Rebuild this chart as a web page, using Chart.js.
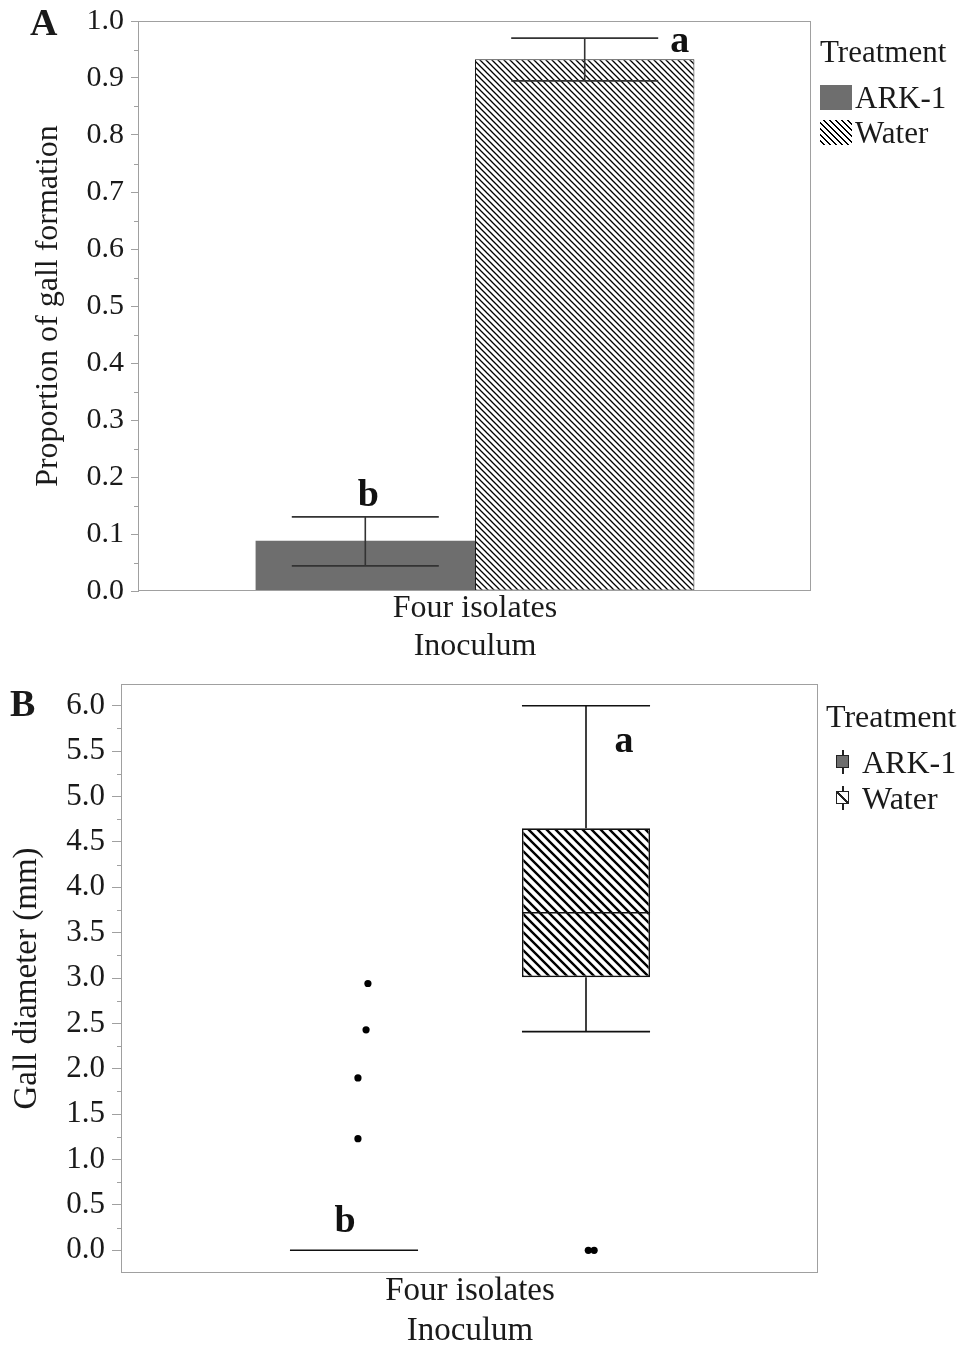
<!DOCTYPE html>
<html>
<head>
<meta charset="utf-8">
<script src="https://cdn.jsdelivr.net/npm/chart.js@4.4.1/dist/chart.umd.min.js"></script>
<style>
    html, body { margin: 0; padding: 0; background: #fff; overflow: hidden; }
    #pagina { position: relative; width: 963px; height: 1346px; font-family: "Liberation Serif", "Times New Roman", serif; color: #1a1a1a; }
    #cajaA { position: absolute; left: 0; top: 0; width: 963px; height: 670px; }
    #cajaB { position: absolute; left: 0; top: 670px; width: 963px; height: 676px; }
    .txt { position: absolute; white-space: nowrap; line-height: 1; }
    .panel { font-weight: bold; font-size: 38px; }
    .muestra { position: absolute; }
    .rayas { background: repeating-linear-gradient(45deg, #fff 0px, #fff 2.6px, #000 2.6px, #000 4.2px); }
    .icono { position: absolute; width: 14px; }
    .icono .linea { position: absolute; left: 6px; top: 0; width: 1.5px; height: 24px; background: #222; }
    .icono .cuadro { position: absolute; left: 0; top: 5px; width: 11px; height: 11px; border: 1.5px solid #222; }
</style>
</head>
<body>
<div id="pagina">
    <div id="cajaA"><canvas id="graficoA"></canvas></div>
    <div id="cajaB"><canvas id="graficoB"></canvas></div>

    <!-- Letras de panel -->
    <div class="txt panel" style="left:30px; top:3px;">A</div>
    <div class="txt panel" style="left:10px; top:684px;">B</div>

    <!-- Leyenda panel A -->
    <div class="txt" style="left:820px; top:36px; font-size:31px;">Treatment</div>
    <div class="muestra" style="left:820px; top:85px; width:32px; height:25px; background:#6e6e6e;"></div>
    <div class="txt" style="left:855px; top:82px; font-size:31px;">ARK-1</div>
    <div class="muestra rayas" style="left:820px; top:120px; width:32px; height:25px;"></div>
    <div class="txt" style="left:855px; top:117px; font-size:31px;">Water</div>

    <!-- Leyenda panel B -->
    <div class="txt" style="left:826px; top:700px; font-size:32px;">Treatment</div>
    <div class="icono" style="left:836px; top:750px; height:24px;">
        <div class="linea"></div>
        <div class="cuadro" style="background:#6e6e6e;"></div>
    </div>
    <div class="txt" style="left:862px; top:746px; font-size:32px;">ARK-1</div>
    <div class="icono" style="left:836px; top:786px; height:24px;">
        <div class="linea"></div>
        <div class="cuadro" style="background:#fff linear-gradient(45deg, transparent 44%, #222 44%, #222 58%, transparent 58%);"></div>
    </div>
    <div class="txt" style="left:862px; top:782px; font-size:32px;">Water</div>
</div>

<script>
// ---------- Datos panel A: proporción de formación de agallas ----------
const categoriaA = ['Four isolates'];
const tratamientosA = ['ARK-1', 'Water'];
const proporcionA = [0.088, 0.933];
const errorInfA = [0.044, 0.895];
const errorSupA = [0.130, 0.970];
const letrasA = ['b', 'a'];
const ticksA = [0, 0.1, 0.2, 0.3, 0.4, 0.5, 0.6, 0.7, 0.8, 0.9, 1.0];

// ---------- Datos panel B: diámetro de agallas (diagrama de caja) ----------
const tratamientosB = ['ARK-1', 'Water'];
const q1B = [0, 3.01];
const medianaB = [0, 3.72];
const q3B = [0, 4.65];
const bigoteInfB = [0, 2.41];
const bigoteSupB = [0, 6.0];
const atipicosArk = [2.94, 2.43, 1.90, 1.23];
const dispersionArk = [0.06, 0.052, 0.017, 0.017];   // desplazamiento horizontal de los puntos
const atipicosWater = [0, 0];
const dispersionWater = [0.01, 0.035];
const letrasB = ['b', 'a'];
const ticksB = [0, 0.5, 1.0, 1.5, 2.0, 2.5, 3.0, 3.5, 4.0, 4.5, 5.0, 5.5, 6.0];

const FUENTE = '"Liberation Serif", "Times New Roman", serif';
const TEXTO = '#1a1a1a';
const GRIS_EJE = '#a0a0a0';
const GRIS_BARRA = '#6e6e6e';

// Crea un patrón de rayas diagonales "\" para rellenar barras
function crearRayado(paso, grosor) {
    const c = document.createElement('canvas');
    c.width = paso; c.height = paso;
    const g = c.getContext('2d');
    g.fillStyle = '#fff';
    g.fillRect(0, 0, paso, paso);
    g.strokeStyle = '#000';
    g.lineWidth = grosor;
    g.beginPath();
    g.moveTo(-1, -1); g.lineTo(paso + 1, paso + 1);
    g.moveTo(-1, paso - 1); g.lineTo(1, paso + 1);
    g.moveTo(paso - 1, -1); g.lineTo(paso + 1, 1);
    g.stroke();
    return g.createPattern(c, 'repeat');
}

// Marco gris del área de trazado + marcas menores del eje Y
const marcoPlugin = {
    id: 'marco',
    afterDraw(chart, args, opts) {
        const { ctx, chartArea: a, scales } = chart;
        ctx.save();
        ctx.strokeStyle = GRIS_EJE;
        ctx.lineWidth = 1;
        ctx.strokeRect(Math.round(a.left) - 0.5, Math.round(a.top) + 0.5,
                       Math.round(a.right - a.left), Math.round(a.bottom - a.top) - 1);
        const t = opts.ticks;
        for (let i = 0; i < t.length - 1; i++) {
            const y = Math.round(scales.y.getPixelForValue((t[i] + t[i + 1]) / 2)) + 0.5;
            ctx.beginPath();
            ctx.moveTo(a.left - opts.menor, y);
            ctx.lineTo(a.left, y);
            ctx.stroke();
        }
        ctx.restore();
    }
};

// Barras de error y letras de significancia del panel A
const erroresPlugin = {
    id: 'errores',
    afterDatasetsDraw(chart) {
        const { ctx, scales: { y } } = chart;
        ctx.save();
        ctx.strokeStyle = '#333';
        ctx.lineWidth = 1.6;
        ctx.font = 'bold 38px ' + FUENTE;
        ctx.fillStyle = '#111';
        chart.data.datasets.forEach((ds, i) => {
            const barra = chart.getDatasetMeta(i).data[0];
            const semi = barra.width * 0.335;
            const yInf = y.getPixelForValue(errorInfA[i]);
            const ySup = y.getPixelForValue(errorSupA[i]);
            ctx.beginPath();
            ctx.moveTo(barra.x, yInf); ctx.lineTo(barra.x, ySup);
            ctx.moveTo(barra.x - semi, yInf); ctx.lineTo(barra.x + semi, yInf);
            ctx.moveTo(barra.x - semi, ySup); ctx.lineTo(barra.x + semi, ySup);
            ctx.stroke();
            ctx.textAlign = 'center';
            if (i === 0) ctx.fillText(letrasA[i], barra.x + 3, ySup - 11);
            else ctx.fillText(letrasA[i], barra.x + 95, ySup + 14);
        });
        ctx.restore();
    }
};

// Bigotes, medianas y letras del diagrama de caja (panel B)
const cajaPlugin = {
    id: 'caja',
    afterDatasetsDraw(chart) {
        const { ctx, scales: { x, y } } = chart;
        const meta = chart.getDatasetMeta(0);
        ctx.save();
        ctx.strokeStyle = '#111';
        ctx.lineWidth = 1.6;
        ctx.font = 'bold 38px ' + FUENTE;
        ctx.fillStyle = '#111';
        ctx.textAlign = 'center';
        tratamientosB.forEach((t, i) => {
            const cx = x.getPixelForValue(i + 1);
            const semi = meta.data[i].width / 2;
            const yQ1 = y.getPixelForValue(q1B[i]);
            const yQ3 = y.getPixelForValue(q3B[i]);
            const yMed = y.getPixelForValue(medianaB[i]);
            const yInf = y.getPixelForValue(bigoteInfB[i]);
            const ySup = y.getPixelForValue(bigoteSupB[i]);
            ctx.beginPath();
            if (yInf !== yQ1) { ctx.moveTo(cx, yInf); ctx.lineTo(cx, yQ1); }
            if (ySup !== yQ3) { ctx.moveTo(cx, yQ3); ctx.lineTo(cx, ySup); }
            ctx.moveTo(cx - semi, yInf); ctx.lineTo(cx + semi, yInf);
            ctx.moveTo(cx - semi, ySup); ctx.lineTo(cx + semi, ySup);
            ctx.moveTo(cx - semi, yMed); ctx.lineTo(cx + semi, yMed);
            ctx.stroke();
            if (i === 0) ctx.fillText(letrasB[i], cx - 9, yQ3 - 18);
            else ctx.fillText(letrasB[i], cx + 38, ySup + 46);
        });
        ctx.restore();
    }
};

// Opciones comunes del eje Y
function ejeY(ticks, min, max, ancho, largoTick, tamTick, titulo, tamTitulo, sepTitulo) {
    return {
        min: min,
        max: max,
        afterBuildTicks: s => { s.ticks = ticks.map(v => ({ value: v })); },
        // ancho fijo y sin reserva extra arriba/abajo para las etiquetas
        afterFit: s => { s.width = ancho; s.paddingTop = 0; s.paddingBottom = 0; },
        grid: { drawOnChartArea: false, tickLength: largoTick, tickColor: GRIS_EJE, color: GRIS_EJE },
        border: { display: false },
        ticks: { padding: 7, color: TEXTO, font: { family: FUENTE, size: tamTick }, callback: v => v.toFixed(1) },
        title: { display: true, text: titulo, color: TEXTO, font: { family: FUENTE, size: tamTitulo }, padding: { top: sepTitulo, bottom: 0 } }
    };
}

// ---------- Gráfico A ----------
const rayadoA = crearRayado(6, 1.3);
new Chart(document.getElementById('graficoA'), {
    type: 'bar',
    data: {
        labels: categoriaA,
        datasets: [
            { label: tratamientosA[0], data: [proporcionA[0]], backgroundColor: GRIS_BARRA, borderWidth: 0 },
            { label: tratamientosA[1], data: [proporcionA[1]], backgroundColor: rayadoA, borderColor: '#1a1a1a', borderWidth: 1, borderSkipped: false }
        ]
    },
    options: {
        responsive: true,
        maintainAspectRatio: false,
        animation: false,
        layout: { padding: { top: 21, right: 152, left: 0, bottom: 0 } },
        datasets: { bar: { categoryPercentage: 0.653, barPercentage: 1 } },
        plugins: {
            legend: { display: false },
            tooltip: { enabled: false },
            marco: { ticks: ticksA, menor: 5 }
        },
        scales: {
            x: {
                grid: { display: false },
                border: { display: false },
                ticks: { display: false },
                afterFit: s => { s.height = 79; s.paddingLeft = 0; s.paddingRight = 0; },
                title: { display: true, text: [categoriaA[0], 'Inoculum'], color: TEXTO, font: { family: FUENTE, size: 32 }, padding: { top: 0, bottom: 4 } }
            },
            y: ejeY(ticksA, 0, 1, 139, 8, 30, 'Proportion of gall formation', 32, 29)
        }
    },
    plugins: [marcoPlugin, erroresPlugin]
});

// ---------- Gráfico B ----------
const rayadoB = crearRayado(9, 2.4);
new Chart(document.getElementById('graficoB'), {
    type: 'bar',
    data: {
        datasets: [
            {
                label: 'Caja',
                data: tratamientosB.map((t, i) => ({ x: i + 1, y: [q1B[i], q3B[i]] })),
                backgroundColor: [GRIS_BARRA, rayadoB],
                borderColor: '#111',
                borderWidth: [0, 1.6],
                borderSkipped: false,
                categoryPercentage: 0.552,
                barPercentage: 1
            },
            {
                type: 'scatter',
                label: tratamientosB[0],
                data: atipicosArk.map((v, i) => ({ x: 1 + dispersionArk[i], y: v })),
                pointRadius: 3.6,
                backgroundColor: '#000',
                borderWidth: 0
            },
            {
                type: 'scatter',
                label: tratamientosB[1],
                data: atipicosWater.map((v, i) => ({ x: 2 + dispersionWater[i], y: v })),
                pointRadius: 3.6,
                backgroundColor: '#000',
                borderWidth: 0
            }
        ]
    },
    options: {
        responsive: true,
        maintainAspectRatio: false,
        animation: false,
        layout: { padding: { top: 14, right: 145, left: 0, bottom: 0 } },
        plugins: {
            legend: { display: false },
            tooltip: { enabled: false },
            marco: { ticks: ticksB, menor: 5 }
        },
        scales: {
            x: {
                type: 'linear',
                min: 0,
                max: 3,
                offset: false,
                grid: { display: false },
                border: { display: false },
                ticks: { display: false, stepSize: 1 },
                afterFit: s => { s.height = 73; s.paddingLeft = 0; s.paddingRight = 0; },
                title: { display: true, text: ['Four isolates', 'Inoculum'], color: TEXTO, font: { family: FUENTE, size: 33 }, padding: { top: 0, bottom: -5 } }
            },
            y: ejeY(ticksB, -0.25, 6.24, 122, 10, 31, 'Gall diameter (mm)', 33, 8)
        }
    },
    plugins: [marcoPlugin, cajaPlugin]
});
</script>
</body>
</html>
